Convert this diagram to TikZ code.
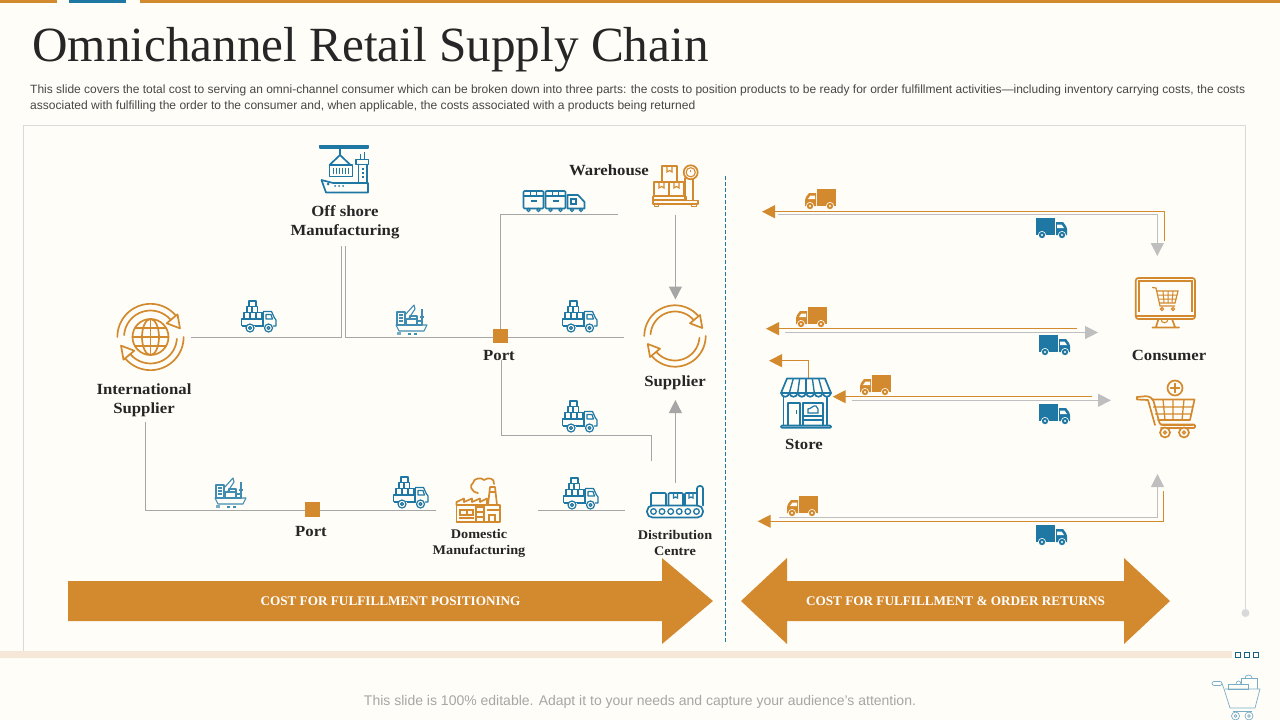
\documentclass[tikz,border=0pt]{standalone}
\usepackage{fontspec}
\setmainfont{Liberation Serif}
\setsansfont{Liberation Sans}
\newfontfamily\lblf[FakeStretch=1.08]{Liberation Serif}
\usetikzlibrary{arrows.meta}
\definecolor{bgc}{HTML}{FFFDF8}
\definecolor{org}{HTML}{D38A2F}
\definecolor{blu}{HTML}{1F78A4}
\definecolor{lnk}{HTML}{A6A6A6}
\definecolor{lgt}{HTML}{BFBFBF}
\definecolor{pnl}{HTML}{D9D9D9}
\definecolor{ink}{HTML}{262626}
\definecolor{bar}{HTML}{F5E8D8}
\newcommand\ArcP[5]{plot[domain=#4:#5,samples=30] ({#1+#3*cos(\x)},{#2+#3*sin(\x)})}
\tikzset{
  lbl/.style={font=\lblf\bfseries\fontsize{15.5}{19}\selectfont,text=ink,inner sep=0pt,align=center},
  lbls/.style={font=\lblf\bfseries\fontsize{13.2}{16}\selectfont,text=ink,inner sep=0pt,align=center},
  link/.style={draw=lnk,line width=1pt},
  gln/.style={draw=lgt,line width=1pt},
  oln/.style={draw=org,line width=1.1pt},
  ghead/.style={-{Triangle[length=13pt,width=13pt,fill=lnk]}},
  lhead/.style={-{Triangle[length=13pt,width=13pt,fill=lgt]}},
  ohead/.style={-{Triangle[length=13pt,width=13pt,fill=org]}},
  sq/.style={fill=org,draw=none,minimum width=15pt,minimum height=14.5pt,inner sep=0pt},
  ob/.style={draw=org,line width=1.7pt,line join=round,line cap=round},
  bb/.style={draw=blu,line width=1.7pt,line join=round,line cap=round},
  tb/.style={draw=blu!85!bgc,line width=1.1pt,line join=round},
  bigarrow/.style={fill=org,draw=none},
  bigtxt/.style={font=\bfseries\fontsize{13.2}{16}\selectfont,text=white,inner sep=0pt},
  pics/solidtruck/.style={code={
    \fill[#1] (12,0) rectangle (31,17);
    \fill[#1] (0,17) -- (0,11) -- (1,8) -- (4,4) -- (11,4) -- (11,17) -- cycle;
    \fill[bgc] (3,10) -- (5.5,6.5) -- (10,6.5) -- (10,10) -- cycle;
    \foreach \wx in {5,25}{
      \fill[bgc] (\wx,17) circle[radius=4];
      \fill[#1] (\wx,17) circle[radius=3.2];
      \fill[bgc] (\wx,17) circle[radius=1.2];
    }
  }},
  pics/boxtruck/.style={code={
    \begin{scope}[draw=blu,line width=1.2pt,line join=round]
    \draw (8,0) rectangle (15,5.7);
    \draw (6,5.7) rectangle (11,11.7) (11,5.7) rectangle (16.5,11.7);
    \draw (3,11.7) rectangle (9,18) (9,11.7) rectangle (15,18) (15,11.7) rectangle (21,18);
    \draw (0.5,18) rectangle (22,24.5);
    \draw (22,10.5) -- (30.5,10.5) -- (33.5,17) -- (35,19) -- (35,25) -- (32,25);
    \draw (22,10.5) -- (22,25);
    \draw (25,13.5) -- (30,13.5) -- (31.5,18) -- (25,18) -- cycle;
    \draw (14,25) -- (23,25) (1,25) -- (5,25);
    \foreach \wx in {9,27.5}{
      \draw[fill=bgc] (\wx,27) circle[radius=4];
      \draw (\wx,27) circle[radius=1.5];
    }
    \end{scope}
  }},
  pics/cycleicon/.style={code={
    \foreach \rr in {0,180}{
      \begin{scope}[rotate=\rr]
      \draw[#1] \ArcP{0}{0}{30.7}{180}{320};
      \draw[#1] \ArcP{0}{0}{24.5}{184}{320};
      \draw[#1] (27.3,-8) -- (25,-21) -- (15,-12.7) -- cycle;
      \end{scope}
    }
  }},
}
\begin{document}
\begin{tikzpicture}[x=1pt,y=-1pt]
\useasboundingbox (0,0) rectangle (1280,720);
\fill[bgc] (0,0) rectangle (1280,720);
% top bars
\fill[org] (0,0) rectangle (57,3);
\fill[blu] (69,0) rectangle (126,3);
\fill[org] (140,0) rectangle (1280,3);
% title and intro
\node[anchor=base west,inner sep=0pt,text=ink,font=\fontsize{49.2}{56}\selectfont] (title) at (32,61) {Omnichannel Retail Supply Chain};
\node[anchor=base west,inner sep=0pt,text=ink!85,font=\sffamily\fontsize{12}{14}\selectfont] (introa) at (30,93) {This slide covers the total cost to serving an omni-channel consumer which can be broken down into three parts: the costs to position products to be ready for order fulfillment activities—including inventory carrying costs, the costs};
\node[anchor=base west,inner sep=0pt,text=ink!85,font=\sffamily\fontsize{12.05}{14}\selectfont] (introb) at (30,109.5) {associated with fulfilling the order to the consumer and, when applicable, the costs associated with a products being returned};
% panel
\draw[pnl,line width=1pt] (23.5,652) -- (23.5,125.5) -- (1245.5,125.5) -- (1245.5,609);
\fill[pnl] (1245.5,613) circle[radius=4];
% footer
\fill[bar] (0,651) rectangle (1232,658);
\foreach \sx in {1235.5,1244.5,1253.5}{\draw[blu!80!black,line width=1.2pt] (\sx,652.5) rectangle ++(5,5);}
\node[inner sep=0pt,text=lnk,font=\sffamily\fontsize{14}{16}\selectfont] (foot) at (640,701.5) {This slide is 100\% editable. Adapt it to your needs and capture your audience's attention.};
% dashed divider
\coordinate (dA) at (725.5,176); \coordinate (dB) at (725.5,642);
\draw[blu,line width=1.1pt,dash pattern=on 3.5pt off 2.5pt] (dA) -- (dB);

% free connector ends
\coordinate (isR) at (191,337.3); \coordinate (osL) at (341.7,246);
\coordinate (osR) at (345.5,246); \coordinate (supW) at (624,337.3);
\coordinate (wareW) at (618,214.3); \coordinate (portS) at (501.5,360);
\coordinate (dcN) at (651.5,461); \coordinate (isS) at (145.5,422);
\coordinate (domW) at (436,510.3); \coordinate (domE) at (538,510); \coordinate (dcW) at (625,510);
\coordinate (wareS) at (675.4,215); \coordinate (supN) at (675.4,299.5);
\coordinate (dcT) at (675.4,483); \coordinate (supS) at (675.4,400);
% port squares
\node[sq] (portA) at (500.5,336) {};
\node[sq] (portB) at (312,509.5) {};
% left network connectors
\draw[link] (isR) -| (osL);
\draw[link] (osR) |- (supW);
\draw[link] (portA.center) -- (500.5,214.3) -- (wareW);
\draw[link] (portS) |- (dcN |- 0,435) -- (dcN);
\draw[link] (isS) |- (domW);
\draw[link] (domE) -- (dcW);
\node[sq] at (portA.center) {};
\node[sq] at (portB.center) {};
\draw[link,ghead] (wareS) -- (supN);
\draw[link,ghead] (dcT) -- (supS);

% labels
\node[lbl] (lOff) at (345,222) {Off shore\\Manufacturing};
\node[lbl] (lInt) at (144,400.5) {International\\Supplier};
\node[lbl] (lWare) at (609,170) {Warehouse};
\node[lbl] (lPortA) at (499,355) {Port};
\node[lbl] (lSup) at (675,382.5) {Supplier};
\node[lbl] (lPortB) at (311,531) {Port};
\node[lbls] (lDom) at (479,543) {Domestic\\Manufacturing};
\node[lbls] (lDist) at (675,543) {Distribution\\Centre};
\node[lbl] (lStore) at (804,444) {Store};
\node[lbl] (lCons) at (1169,355) {Consumer};

% right side connectors
\coordinate (a1o) at (775,211.7); \coordinate (a1t) at (762,211.7);
\coordinate (c1o) at (1164.7,241); \coordinate (c1g) at (1157.3,256); \coordinate (g1s) at (778,214.3);
\draw[oln,ohead] (c1o) |- (a1t);
\draw[gln,lhead] (g1s) -| (c1g);
\coordinate (a2s) at (1077,328.7); \coordinate (a2t) at (766,328.7);
\coordinate (g2s) at (785,332.5); \coordinate (g2t) at (1098,332.5);
\draw[oln,ohead] (a2s) -- (a2t);
\draw[gln,lhead] (g2s) -- (g2t);
\coordinate (stT) at (808.7,378); \coordinate (stA) at (769,360.7);
\draw[oln,ohead] (stT) |- (stA);
\coordinate (a3s) at (1092,396.7); \coordinate (a3t) at (832.7,396.7);
\coordinate (g3s) at (851.7,400.3); \coordinate (g3t) at (1111,400.3);
\draw[oln,ohead] (a3s) -- (a3t);
\draw[gln,lhead] (g3s) -- (g3t);
\coordinate (a4s) at (1163.5,491); \coordinate (a4t) at (757.7,521.3);
\coordinate (g4s) at (779,517.7); \coordinate (g4t) at (1157.5,474);
\draw[oln,ohead] (a4s) |- (a4t);
\draw[gln,lhead] (g4s) -| (g4t);

% solid trucks
\pic at (805,189) {solidtruck=org};
\pic at (796,307) {solidtruck=org};
\pic at (860,375) {solidtruck=org};
\pic at (787,496) {solidtruck=org};
\pic[xscale=-1] at (1067,218) {solidtruck=blu};
\pic[xscale=-1] at (1070,335) {solidtruck=blu};
\pic[xscale=-1] at (1070,404) {solidtruck=blu};
\pic[xscale=-1] at (1067,525) {solidtruck=blu};
% outline trucks
\pic at (241,301) {boxtruck};
\pic at (562,301) {boxtruck};
\pic at (562,401) {boxtruck};
\pic at (563,478) {boxtruck};
\pic at (393,477) {boxtruck};

% big arrows
\fill[bigarrow] (68,581) -- (662,581) -- (662,558) -- (713,601) -- (662,644) -- (662,621) -- (68,621) -- cycle;
\fill[bigarrow] (741,601) -- (787,558) -- (787,581) -- (1124,581) -- (1124,558) -- (1170,601) -- (1124,644) -- (1124,621) -- (787,621) -- (787,644) -- cycle;
\node[bigtxt] (bigA) at (390.5,601) {COST FOR FULFILLMENT POSITIONING};
\node[bigtxt] (bigB) at (955.5,601) {COST FOR FULFILLMENT \& ORDER RETURNS};

% globe icon
\pic[scale=1.08] at (150.5,337) {cycleicon=ob};
\draw[ob] (150.5,337) circle[radius=18];
\draw[ob] (150.5,337) ellipse[x radius=8.5,y radius=18];
\draw[ob] (150.5,319) -- (150.5,355) (132.5,337) -- (168.5,337) (135,328) -- (166,328) (135,346) -- (166,346);
% supplier icon
\pic at (675,336) {cycleicon=ob};

% ship icon
\begin{scope}
\draw[bb,fill=blu] (320,145.5) rectangle (368,148);
\draw[bb] (340,148) -- (340,155);
\draw[bb] (329.5,165) -- (340,155) -- (350.5,165);
\draw[bb] (329.5,165) rectangle (352.5,176.5);
\foreach \vx in {333,336,339,342,345,348}{\draw[blu,line width=1pt] (\vx,168) -- (\vx,174);}
\draw[bb] (356,159.5) rectangle (368.5,164.5);
\draw[bb] (358.5,164.5) -- (358.5,182.5) (367,164.5) -- (367,182.5);
\draw[blu,line width=1pt] (360,159) -- (360,154) (364,159) -- (364,152);
\foreach \vy in {168,172,176}{\fill[blu] (361.5,\vy) rectangle +(2.5,1.6);}
\draw[bb] (321.5,180) -- (333,183) -- (368,183) -- (368,192.5) -- (326,192.5) -- cycle;
\fill[blu] (328,184) circle[radius=1.5];
\foreach \vx in {335,339,343}{\fill[blu] (\vx,186) circle[radius=1];}
\end{scope}

% container truck
\begin{scope}
\foreach \bx in {523.5,545.5}{
  \draw[bb,rounded corners=1pt] (\bx,191) rectangle ++(20,17.5);
  \draw[blu,line width=1.3pt] (\bx,196) -- ++(20,0);
  \draw[blu,line width=1.3pt] (\bx+7,191) -- ++(0,5) -- ++(6,0) -- ++(0,-5);
  \draw[blu,line width=1.3pt] (\bx+7,201) -- ++(6,0);
  \foreach \wo in {5,15}{\draw[blu,line width=1.2pt] (\bx+\wo,210) circle[radius=1.6];}
}
\draw[bb] (567.5,195) -- (578,195) -- (584.5,202) -- (584.5,208.5) -- (567.5,208.5) -- cycle;
\draw[blu,line width=1.2pt] (571,199) rectangle (576,204);
\foreach \wx in {572,581}{\draw[blu,line width=1.2pt] (\wx,210) circle[radius=1.6];}
\end{scope}

% warehouse scale
\begin{scope}
\draw[ob] (662,166) rectangle (677,182);
\draw[ob] (654,182) rectangle (669,196);
\draw[ob] (669,182) rectangle (684,196);
\foreach \bx/\by in {667/166,659/182,674/182}{\draw[org,line width=1.1pt] (\bx,\by) -- ++(0,6) -- ++(2.5,-1.5) -- ++(2.5,1.5) -- ++(0,-6);}
\draw[ob] (653,196.5) rectangle (686,200);
\draw[ob] (653,200.5) rectangle (698,204);
\draw[ob] (654.5,204) rectangle (658.5,206.5);
\draw[ob] (691.5,204) rectangle (696.5,206.5);
\draw[ob] (685,178) -- (685,200.5) (693,178) -- (693,200.5) ;
\draw[ob,fill=bgc] (690.7,172.3) circle[radius=7];
\draw[org,line width=1.1pt] (690.7,172.3) circle[radius=4.6];
\draw[org,line width=1.1pt] (690.7,172.3) -- (690.7,169.5);
\end{scope}

% crane ships
\foreach \sx/\sy in {215/479,396/306}{
\begin{scope}[shift={(\sx,\sy)}]
\draw[tb] (0,19) -- (31,19) -- (28,25) -- (3,25) -- cycle;
\draw[tb] (1,6) rectangle (9,19);
\draw[tb] (3,9) -- (7,9) (3,12) -- (7,12) (3,15) -- (7,15);
\draw[tb] (9,9) -- (18,-1) -- (19,3) -- (13,12);
\draw[tb] (10,13) rectangle (21,19);
\draw[tb] (14,10) rectangle (21,13) (21,15) rectangle (26,19);
\draw[tb] (26,3) -- (26,19) (24,11) -- (28,11);
\fill[blu!60!bgc] (1,26) rectangle (5,29);
\draw[tb] (12,28) -- (15,28) (18,28) -- (21,28);
\end{scope}}

% factory
\begin{scope}
\draw[ob] (456.5,505) -- (456.5,502) -- (464,498.5) -- (464,502) -- (472,498.5) -- (472,502) -- (480,498.5) -- (480,502) -- (487,498.5) -- (487,505);
\draw[ob] (488,505) -- (490,487) -- (495,487) -- (497,505);
\draw[org,line width=1.2pt] (489.5,492) -- (495.5,492);
\draw[ob] (456.5,522) rectangle (500,505);
\draw[org,line width=1.2pt] (460,510) rectangle (466.5,515) (467.5,510) rectangle (473,515) (459,518) -- (474,518);
\draw[org,line width=1.3pt] (476,522) -- (476,507) -- (484,507) -- (484,522) (476,512) -- (484,512) (476,517) -- (484,517);
\draw[org,line width=1.3pt] (489,522) -- (489,515) -- (495,515) -- (495,522) (487,510) -- (500,510);
\draw[ob] (478,493) .. controls (471,492) and (469,485) .. (473,483) .. controls (473,478) and (482,477) .. (484,480) .. controls (488,477) and (495,478) .. (494,484);
\end{scope}

% conveyor
\begin{scope}
\draw[bb,rounded corners=5.5pt] (647,505.5) rectangle (703,517.5);
\foreach \rx in {653.5,662,670.7,679.2,687.8,696.5}{\draw[blu,line width=1.3pt] (\rx,511.5) circle[radius=2.8];}
\draw[bb,rounded corners=1pt] (651,505.5) -- (651,493) -- (666,493) -- (666,505.5);
\draw[bb,rounded corners=1pt] (668.5,505.5) -- (668.5,493) -- (683,493) -- (683,505.5);
\draw[bb,rounded corners=1pt] (685,505.5) -- (685,493) -- (697,493) -- (697,505.5);
\draw[blu,line width=1.2pt] (673.5,493) -- ++(0,5) -- ++(2,-1) -- ++(2,1) -- ++(0,-5);
\draw[blu,line width=1.2pt] (689,493) -- ++(0,5) -- ++(2,-1) -- ++(2,1) -- ++(0,-5);
\draw[bb,rounded corners=2.5pt] (697,505.5) -- (697,486) -- (703,486) -- (703,505.5);
\end{scope}

% store
\begin{scope}
\draw[bb] (787,378.5) -- (825,378.5) -- (831,393) -- (781,393) -- cycle;
\foreach \i in {1,...,5}{
  \draw[blu,line width=1.4pt] ({787+\i*38/6},378.5) -- ({781+\i*50/6},393);
}
\foreach \i in {0,...,5}{
  \draw[bb] ({781+\i*50/6},393) .. controls ({781+\i*50/6+1},398) and ({781+(\i+1)*50/6-1},398) .. ({781+(\i+1)*50/6},393);
}
\draw[bb] (783.5,397) -- (783.5,425.5) (827,397) -- (827,425.5);
\draw[bb,rounded corners=1pt] (781,425.5) rectangle (831,427.8);
\draw[bb] (788,425.5) -- (788,403) -- (800,403) -- (800,425.5);
\draw[bb] (803,425.5) -- (803,403) -- (823,403) -- (823,425.5);
\draw[bb] (803,416) -- (823,416) (803,420) -- (823,420);
\draw[blu,line width=1pt] (796,410) -- (796,414);
\draw[blu,line width=1.2pt] (808,413) -- (808,409) .. controls (811,409) and (813,405) .. (816,406) -- (818,409) -- (818,413) -- cycle;
\end{scope}

% monitor
\begin{scope}
\draw[ob,rounded corners=2.5pt] (1135.8,278) rectangle (1195,319);
\draw[org,line width=1.1pt] (1139,312) -- (1139,281) -- (1192,281) -- (1192,312);
\draw[ob] (1136,316) -- (1195,316);
\draw[ob] (1158.5,319) -- (1156,327) (1172,319) -- (1175,327) (1152.5,327.5) -- (1179,327.5);
\draw[org,line width=1.1pt] (1161,319) .. controls (1161,324) and (1168,324) .. (1168,319);
% cart in monitor
\draw[org,line width=1.2pt] (1152,287.5) -- (1156,288) -- (1160,306) -- (1175,306);
\draw[org,line width=1.2pt] (1157,291) -- (1178,291) -- (1175,303) -- (1160,303);
\draw[org,line width=1pt] (1158,295) -- (1177,295) (1159,299) -- (1176,299) (1163,291) -- (1164,303) (1168,291) -- (1168,303) (1173,291) -- (1172,303);
\draw[org,line width=1.2pt] (1162,309) circle[radius=1.6] (1173,309) circle[radius=1.6];
\end{scope}

% cart with plus
\begin{scope}
\draw[ob,rounded corners=2.5pt] (1137,397) -- (1148,396) -- (1153,399) -- (1160,425) -- (1193,425);
\draw[ob] (1137,397) -- (1137,399.5) -- (1148,400) -- (1155,425);
\draw[ob,rounded corners=1pt] (1161,424.5) -- (1195,424.5) -- (1195,428) -- (1161,428);
\draw[ob] (1152,399.5) -- (1194.5,399.5) -- (1190,420) -- (1158,420);
\draw[org,line width=1.3pt] (1153,407) -- (1192.5,407) (1155,414) -- (1191,414) (1163,399.5) -- (1165,420) (1173,399.5) -- (1173,420) (1184,399.5) -- (1182,420);
\draw[ob,fill=bgc] (1165,432.5) circle[radius=5] (1184,432.5) circle[radius=5];
\draw[org,line width=1.2pt] (1165,432.5) circle[radius=1.5] (1184,432.5) circle[radius=1.5];
\draw[ob] (1175,388) circle[radius=7.5];
\draw[ob] (1175,383.5) -- (1175,392.5) (1170.5,388) -- (1179.5,388);
\end{scope}

% footer cart
\begin{scope}
\tikzset{every path/.style={draw=blu!60!bgc,line width=0.7pt}}
\path[rounded corners=2pt] (1212,681.5) rectangle (1222,685.5);
\path (1222,683.5) -- (1224,689) -- (1230,708) -- (1255,708) -- (1260,689) -- (1225,689);
\path (1228,689) rectangle (1248,684);
\path (1241,684) -- (1241,678) -- (1257,678) -- (1257,689);
\path (1236,684) .. controls (1236,680) and (1241,680) .. (1241,684);
\path (1245,678) .. controls (1245,674) and (1252,674) .. (1252,678);
\path (1233,711) -- (1252,711);
\path (1235.5,716) circle[radius=4] (1235.5,716) circle[radius=1.3] (1249,716) circle[radius=4] (1249,716) circle[radius=1.3];
\end{scope}
\end{tikzpicture}
\end{document}
